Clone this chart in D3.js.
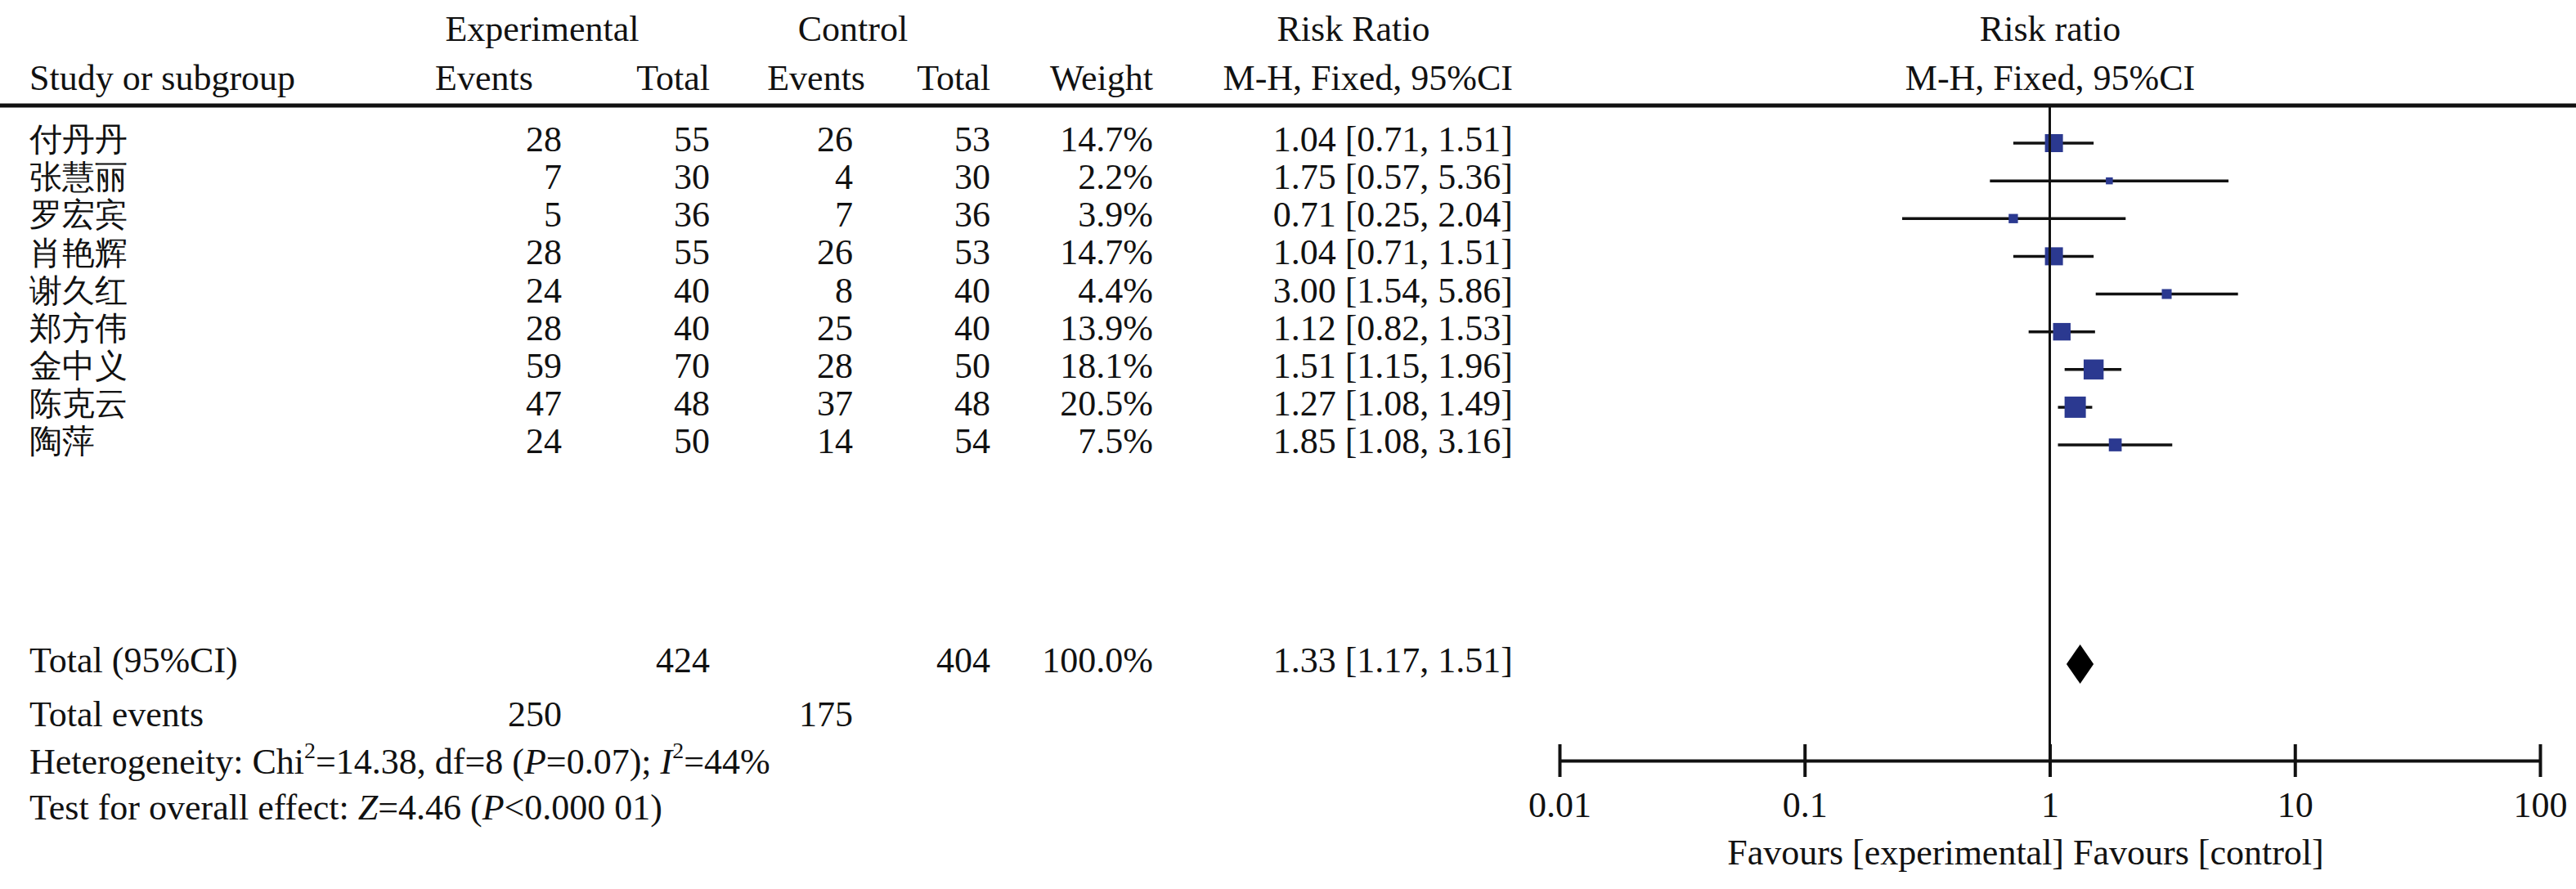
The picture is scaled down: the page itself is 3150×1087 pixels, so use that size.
<!DOCTYPE html>
<html><head><meta charset="utf-8">
<script src="https://cdn.jsdelivr.net/npm/d3@7"></script>
<style>body{margin:0;background:#fff}text{font-family:"Liberation Serif","Times New Roman",serif;fill:#111}</style>
</head><body><div id="chart"></div>
<script>
// study rows
const studies = ["付丹丹","张慧丽","罗宏宾","肖艳辉","谢久红","郑方伟","金中义","陈克云","陶萍"];
const expEvents = [28,7,5,28,24,28,59,47,24];
const expTotal = [55,30,36,55,40,40,70,48,50];
const ctlEvents = [26,4,7,26,8,25,28,37,14];
const ctlTotal = [53,30,36,53,40,40,50,48,54];
const weights = [14.7,2.2,3.9,14.7,4.4,13.9,18.1,20.5,7.5];
const rr = [1.04,1.75,0.71,1.04,3.00,1.12,1.51,1.27,1.85];
const lo = [0.71,0.57,0.25,0.71,1.54,0.82,1.15,1.08,1.08];
const hi = [1.51,5.36,2.04,1.51,5.86,1.53,1.96,1.49,3.16];
const total = {exp: 424, ctl: 404, weight: "100.0%", rr: 1.33, lo: 1.17, hi: 1.51};
const totalEvents = [250, 175];
const axisTicks = [0.01, 0.1, 1, 10, 100];

const W = 3150, H = 1087, fs = 44;
const svg = d3.select("#chart").append("svg").attr("width", W).attr("height", H);

const rowY = d3.scaleLinear().domain([0, 8]).range([175, 544]);
const x = d3.scaleLog().domain([0.01, 100]).range([1907, 3106]);
const side = d3.scaleSqrt().domain([0, 20.5]).range([0, 26]);
const f2 = d3.format(".2f");

function txt(s, xx, y, anchor) {
  return svg.append("text").attr("x", xx).attr("y", y).attr("font-size", fs)
    .attr("text-anchor", anchor || "start").attr("dominant-baseline", "middle").text(s);
}

// headers
txt("Experimental", 663, 40, "middle");
txt("Control", 1043, 40, "middle");
txt("Risk Ratio", 1655, 40, "middle");
txt("Risk ratio", 2507, 40, "middle");
txt("Study or subgroup", 36, 100);
txt("Events", 532, 100);
txt("Total", 868, 100, "end");
txt("Events", 1058, 100, "end");
txt("Total", 1211, 100, "end");
txt("Weight", 1410, 100, "end");
txt("M-H, Fixed, 95%CI", 1850, 100, "end");
txt("M-H, Fixed, 95%CI", 2507, 100, "middle");

svg.append("line").attr("x1", 0).attr("x2", W).attr("y1", 129).attr("y2", 129)
  .attr("stroke", "#111").attr("stroke-width", 5);

// rows
studies.forEach((s, i) => {
  const y = rowY(i);
  txt(s, 36, y).attr("font-family", "Noto Sans CJK SC").attr("font-size", 40);
  txt(expEvents[i], 687, y, "end");
  txt(expTotal[i], 868, y, "end");
  txt(ctlEvents[i], 1043, y, "end");
  txt(ctlTotal[i], 1211, y, "end");
  txt(weights[i].toFixed(1) + "%", 1410, y, "end");
  txt(`${f2(rr[i])} [${f2(lo[i])}, ${f2(hi[i])}]`, 1850, y, "end");
  svg.append("line").attr("x1", x(lo[i])).attr("x2", x(hi[i])).attr("y1", y).attr("y2", y)
    .attr("stroke", "#111").attr("stroke-width", 3.5);
  const a = side(weights[i]);
  svg.append("rect").attr("x", x(rr[i]) - a / 2).attr("y", y - a / 2).attr("width", a).attr("height", a)
    .attr("fill", "#2b3990");
});

// totals
const ty = 812;
txt("Total (95%CI)", 36, ty);
txt(total.exp, 868, ty, "end");
txt(total.ctl, 1211, ty, "end");
txt(total.weight, 1410, ty, "end");
txt(`${f2(total.rr)} [${f2(total.lo)}, ${f2(total.hi)}]`, 1850, ty, "end");
svg.append("path").attr("fill", "#000")
  .attr("d", `M${x(total.lo)},${ty}L${x(total.rr)},${ty - 24}L${x(total.hi)},${ty}L${x(total.rr)},${ty + 24}Z`);

txt("Total events", 36, 878);
txt(totalEvents[0], 687, 878, "end");
txt(totalEvents[1], 1043, 878, "end");

const het = txt("", 36, 936);
het.append("tspan").text("Heterogeneity: Chi");
het.append("tspan").attr("baseline-shift", "super").attr("font-size", 28).text("2");
het.append("tspan").text("=14.38, df=8 (");
het.append("tspan").attr("font-style", "italic").text("P");
het.append("tspan").text("=0.07); ");
het.append("tspan").attr("font-style", "italic").text("I");
het.append("tspan").attr("baseline-shift", "super").attr("font-size", 28).text("2");
het.append("tspan").text("=44%");

const ov = txt("", 36, 992);
ov.append("tspan").text("Test for overall effect: ");
ov.append("tspan").attr("font-style", "italic").text("Z");
ov.append("tspan").text("=4.46 (");
ov.append("tspan").attr("font-style", "italic").text("P");
ov.append("tspan").text("<0.000 01)");

// null line and axis
const axY = 930;
svg.append("line").attr("x1", x(1)).attr("x2", x(1)).attr("y1", 129).attr("y2", axY)
  .attr("stroke", "#111").attr("stroke-width", 3);
const ax = svg.append("g").attr("transform", `translate(0,${axY})`)
  .call(d3.axisBottom(x).tickValues(axisTicks).tickSizeInner(20).tickSizeOuter(0).tickFormat(d => String(d)));
ax.select(".domain").attr("stroke", "#111").attr("stroke-width", 4);
ax.selectAll(".tick line").attr("stroke", "#111").attr("stroke-width", 4).attr("y1", -20).attr("y2", 20);
ax.selectAll(".tick text").attr("font-size", fs).attr("font-family", "Liberation Serif").attr("fill", "#111").attr("y", 38);
txt("Favours [experimental] Favours [control]", 2477, 1047, "middle");
</script></body></html>
